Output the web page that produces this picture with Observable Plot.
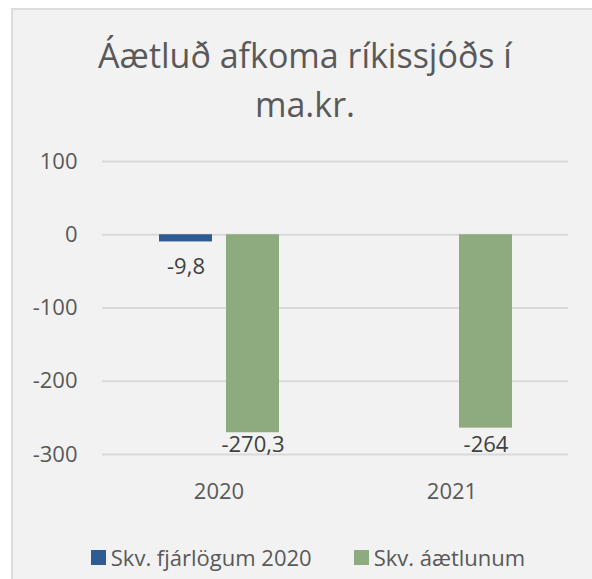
<!DOCTYPE html>
<html>
<head>
<meta charset="utf-8">
<script src="https://cdn.jsdelivr.net/npm/d3@7"></script>
<script src="https://cdn.jsdelivr.net/npm/@observablehq/plot@0.6"></script>
<style>
  html, body { margin: 0; padding: 0; background: #ffffff; }
  #page { position: relative; width: 592px; height: 579px; overflow: hidden; font-family: "Open Sans", "Noto Sans", sans-serif; }
  #box { position: absolute; left: 11px; top: 8px; width: 600px; height: 600px; background: #f2f2f2; border-top: 2px solid #dcdcdc; border-left: 2px solid #dcdcdc; box-sizing: border-box; }
  #title { position: absolute; left: 11px; width: 588px; top: 31px; text-align: center; font-size: 34px; line-height: 49px; color: #595959; }
  #chart { position: absolute; left: 0; top: 0; }
  #legend { position: absolute; left: 11px; width: 594px; top: 542px; display: flex; justify-content: center; align-items: center; font-size: 22px; color: #595959; }
  .item { display: flex; align-items: center; margin: 0 21px; }
  .sw { width: 15px; height: 15px; margin-right: 5px; }
</style>
</head>
<body>
<div id="page">
  <div id="box"></div>
  <div id="title">Áætluð afkoma ríkissjóðs í<br>ma.kr.</div>
  <div id="chart"></div>
  <div id="legend"></div>
</div>
<script>
const years = ["2020", "2021"];
const seriesNames = ["Skv. fjárlögum 2020", "Skv. áætlunum"];
const seriesColors = ["#2f5b94", "#8dab7f"];
const fjarlog = [-9.8, null];
const aaetlun = [-270.3, -264];
const yTicks = [100, 0, -100, -200, -300];

const rows = [];
years.forEach((yr, i) => {
  if (fjarlog[i] != null) rows.push({year: yr, series: seriesNames[0], value: fjarlog[i]});
  if (aaetlun[i] != null) rows.push({year: yr, series: seriesNames[1], value: aaetlun[i]});
});
const fmt = v => String(v).replace(".", ",");

const plot = Plot.plot({
  width: 592,
  height: 520,
  marginTop: 161,
  marginBottom: 66,
  marginLeft: 102,
  marginRight: 24,
  style: {background: "transparent", fontFamily: "'Open Sans', 'Noto Sans', sans-serif", fontSize: "22px", color: "#595959"},
  fx: {domain: years, paddingInner: 0, paddingOuter: 0, axis: null},
  x: {domain: seriesNames, paddingInner: 0.209, paddingOuter: 0.843, axis: null},
  y: {domain: [-300, 100], axis: null, label: null},
  color: {domain: seriesNames, range: seriesColors},
  marks: [
    Plot.gridY(yTicks, {stroke: "#d9d9d9", strokeOpacity: 1, strokeWidth: 2}),
    Plot.axisY(yTicks, {tickSize: 0, tickPadding: 25, tickFormat: d => String(d), fontSize: 22, fill: "#595959", label: null}),
    Plot.axisFx({anchor: "bottom", tickSize: 0, tickPadding: 29, fontSize: 22, fill: "#595959", label: null}),
    Plot.barY(rows, {fx: "year", x: "series", y: "value", fill: "series"}),
    Plot.text(rows, {fx: "year", x: "series", y: d => Math.max(d.value - 34, -287), text: d => fmt(d.value), lineAnchor: "middle", fontSize: 22, fill: "#404040"})
  ]
});
document.getElementById("chart").appendChild(plot);

const legend = document.getElementById("legend");
seriesNames.forEach((name, i) => {
  const item = document.createElement("div");
  item.className = "item";
  const sw = document.createElement("div");
  sw.className = "sw";
  sw.style.background = seriesColors[i];
  const label = document.createElement("span");
  label.textContent = name;
  item.appendChild(sw);
  item.appendChild(label);
  legend.appendChild(item);
});
</script>
</body>
</html>
